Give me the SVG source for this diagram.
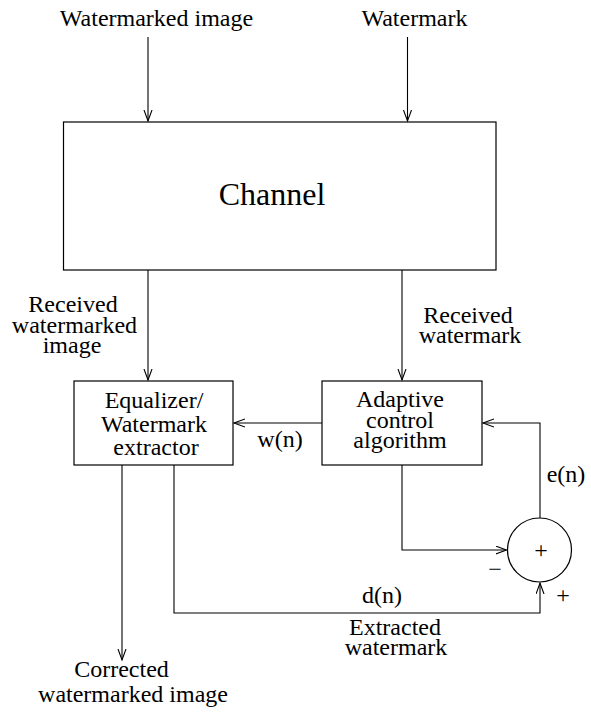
<svg xmlns="http://www.w3.org/2000/svg" width="591" height="713" viewBox="0 0 591 713">
<style>
text{font-family:"Liberation Serif","Times New Roman",serif;font-size:24px;fill:#000;text-anchor:middle}
.box{fill:none;stroke:#000;stroke-width:1.2}
.c{fill:none;stroke:#000;stroke-width:1.1}
</style>
<defs>
<marker id="ah" markerUnits="userSpaceOnUse" markerWidth="14" markerHeight="10" refX="11" refY="4.5" orient="auto">
<path d="M0,0.5 L11,4.5 L0,8.5" fill="none" stroke="#000" stroke-width="1.1"/>
</marker>
</defs>
<rect width="591" height="713" fill="#fff"/>
<g id="labels-top">
<text x="156.5" y="26">Watermarked image</text>
<text x="414.5" y="26">Watermark</text>
</g>
<g id="channel">
<rect class="box" x="63.5" y="122" width="432.5" height="148"/>
<text x="272" y="205" style="font-size:32px">Channel</text>
</g>
<g id="equalizer">
<rect class="box" x="74" y="381" width="159" height="84"/>
<text x="154" y="408">Equalizer/</text>
<text x="154" y="432">Watermark</text>
<text x="156" y="455">extractor</text>
</g>
<g id="adaptive">
<rect class="box" x="322" y="381" width="160" height="84"/>
<text x="400" y="407">Adaptive</text>
<text x="400" y="428">control</text>
<text x="400" y="448">algorithm</text>
</g>
<g id="sum">
<circle class="box" cx="539.5" cy="550" r="32"/>
<text x="541" y="558">+</text>
</g>
<g id="connectors">
<path class="c" d="M148,37 V121" marker-end="url(#ah)"/>
<path class="c" d="M407.5,37 V121" marker-end="url(#ah)"/>
<path class="c" d="M148,270 V380" marker-end="url(#ah)"/>
<path class="c" d="M402,270 V380" marker-end="url(#ah)"/>
<path class="c" d="M322,423 H234" marker-end="url(#ah)"/>
<path class="c" d="M540,518 V423 H483" marker-end="url(#ah)"/>
<path class="c" d="M402,465 V550 H506.5" marker-end="url(#ah)"/>
<path class="c" d="M174,465 V613 H540 V583" marker-end="url(#ah)"/>
<path class="c" d="M122,465 V660" marker-end="url(#ah)"/>
</g>
<g id="connector-labels">
<text x="73" y="312">Received</text>
<text x="74.5" y="333">watermarked</text>
<text x="72" y="353">image</text>
<text x="468" y="323">Received</text>
<text x="470" y="343">watermark</text>
<text x="280" y="447">w(n)</text>
<text x="566" y="482">e(n)</text>
<text x="495" y="577">−</text>
<text x="563" y="603">+</text>
<text x="382" y="603">d(n)</text>
<text x="395" y="635">Extracted</text>
<text x="396" y="655">watermark</text>
<text x="121.5" y="677">Corrected</text>
<text x="133" y="702">watermarked image</text>
</g>
</svg>
